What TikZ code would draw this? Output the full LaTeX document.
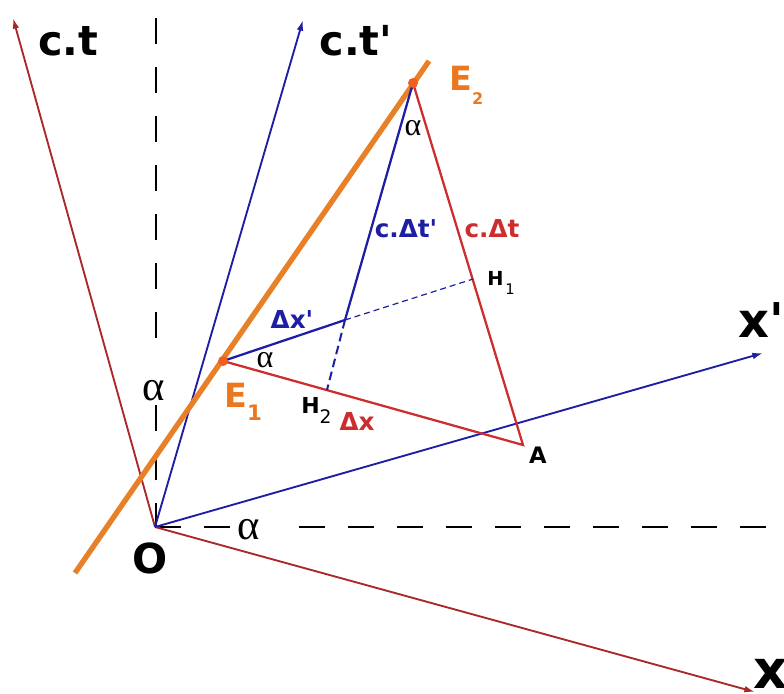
\documentclass[tikz,border=0pt]{standalone}
\usepackage{fontspec}
\newfontfamily\lab{DejaVu Sans}
\newfontfamily\greek{Liberation Serif}
\usetikzlibrary{arrows.meta}
\definecolor{axred}{RGB}{170,40,40}
\definecolor{trired}{RGB}{205,45,45}
\definecolor{axblue}{RGB}{30,30,165}
\definecolor{worange}{RGB}{232,128,40}
\definecolor{lorange}{RGB}{235,120,30}
\definecolor{dotorange}{RGB}{240,95,30}
\begin{document}
\begin{tikzpicture}[x=0.75pt,y=-0.75pt,
  axis/.style={line width=1.4pt,-{Latex[length=8pt,width=5pt]}},
  refdash/.style={black,line width=1.5pt,dash pattern=on 19.5pt off 17.25pt},
  side/.style={line width=1.7pt},
  lbl/.style={inner sep=0pt,anchor=base},
  big/.style={lbl,font=\lab\fontsize{31}{31}\selectfont\bfseries},
  mid/.style={lbl,font=\lab\fontsize{18.5}{18.5}\selectfont\bfseries},
  alphabig/.style={inner sep=0pt,font=\greek\fontsize{32}{32}\selectfont},
  alphasmall/.style={inner sep=0pt,font=\greek\fontsize{24}{24}\selectfont}]
\useasboundingbox (0,0) rectangle (784,693);
% points
\coordinate (O) at (155,527);
\coordinate (ctTip) at (13,18);
\coordinate (ctpTip) at (303,20);
\coordinate (xpTip) at (763,353);
\coordinate (xTip) at (755,692);
\coordinate (wA) at (75,573);
\coordinate (wB) at (429,61);
\coordinate (E1) at (223,361);
\coordinate (E2) at (413,83);
\coordinate (A) at (523,445);
\coordinate (P) at (345,320);
\coordinate (H1) at (473,279);
\coordinate (H2) at (327,390);
\coordinate (vT) at (156,18);
\coordinate (vM1) at (156,338);
\coordinate (vM2) at (156,405);
\coordinate (vB) at (156,527);
\coordinate (hM1) at (231,527);
\coordinate (hM2) at (299,527);
\coordinate (hR) at (784,527);
% reference dashed lines
\draw[refdash] (vT) -- (vM1);
\draw[refdash] (vM2) -- (vB);
\draw[refdash] (O) -- (hM1);
\draw[refdash] (hM2) -- (hR);
% axes
\draw[axis,axred] (O) -- (ctTip);
\draw[axis,axred] (O) -- (xTip);
\draw[axis,axblue] (O) -- (ctpTip);
\draw[axis,axblue] (O) -- (xpTip);
% world line
\draw[worange,line width=4pt] (wA) -- (wB);
% triangle
\draw[side,trired] (E1) -- (A) -- (E2);
\draw[side,axblue] (E1) -- (P) -- (E2);
\draw[axblue,line width=0.9pt,dash pattern=on 4.5pt off 3pt] (P) -- (H1);
\draw[axblue,line width=1.5pt,dash pattern=on 6.5pt off 3.5pt] (P) -- (H2);
% events
\fill[dotorange] (E1) circle[radius=5];
\fill[dotorange] (E2) circle[radius=5];
% labels
\node[big] (Lct) at (68,55) {c.t};
\node[big] (Lctp) at (356,55) {c.t'};
\node[big,anchor=base west,font=\lab\fontsize{36}{36}\selectfont\bfseries] (Lxp) at (738,337) {x'};
\node[big,anchor=base west,font=\lab\fontsize{40}{40}\selectfont\bfseries] (Lx) at (753,688) {x};
\node[big] (LO) at (150,573) {O};
\node[lbl,anchor=base west,text=lorange,font=\lab\bfseries] (LE1) at (224,407)
  {{\fontsize{25}{25}\selectfont E}\raisebox{-10pt}{\fontsize{16}{16}\selectfont 1}};
\node[lbl,anchor=base west,text=lorange,font=\lab\bfseries] (LE2) at (449,90)
  {{\fontsize{25}{25}\selectfont E}\raisebox{-11pt}{\fontsize{12}{12}\selectfont 2}};
\node[alphabig] (a1) at (154,391) {α};
\node[alphabig] (a2) at (249,530) {α};
\node[alphasmall] (a3) at (265,360) {α};
\node[alphasmall] (a4) at (413,128) {α};
\node[mid,text=axblue] (Lctp2) at (406,237) {c.Δt'};
\node[mid,text=trired] (Lct2) at (492,237) {c.Δt};
\node[mid,text=axblue] (Ldxp) at (292,328) {Δx'};
\node[mid,text=trired] (Ldx) at (357,430) {Δx};
\node[lbl,anchor=base west,font=\lab] (LH1) at (487,285)
  {{\fontsize{14.5}{14.5}\selectfont\bfseries H}\kern1.5pt\raisebox{-7pt}{\fontsize{11}{11}\selectfont 1}};
\node[lbl,anchor=base west,font=\lab] (LH2) at (301,413)
  {{\fontsize{16.5}{16.5}\selectfont\bfseries H}\raisebox{-7.5pt}{\fontsize{14}{14}\selectfont 2}};
\node[lbl,font=\lab\fontsize{17}{17}\selectfont\bfseries] (LA) at (538,463) {A};
\end{tikzpicture}
\end{document}
